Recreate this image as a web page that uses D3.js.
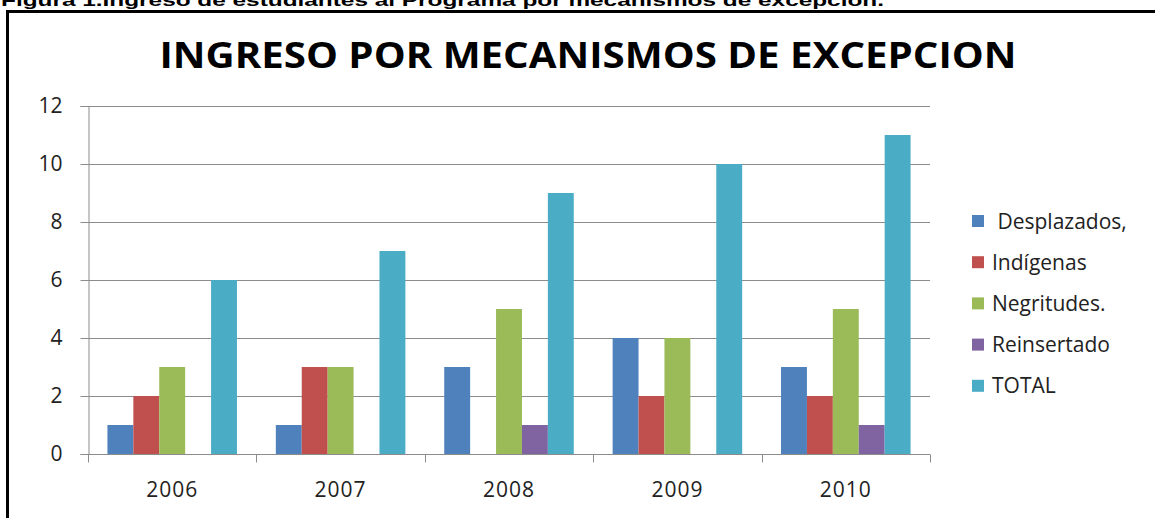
<!DOCTYPE html>
<html>
<head>
<meta charset="utf-8">
<script src="https://cdn.jsdelivr.net/npm/d3@7"></script>
<style>
  body { margin: 0; background: #fff; }
  svg { display: block; }
</style>
</head>
<body>
<div id="chart"></div>
<script>
const years = ['2006', '2007', '2008', '2009', '2010'];
const seriesNames = ['Desplazados', 'Indígenas', 'Negritudes', 'Reinsertado', 'TOTAL'];
const legendLabels = [' Desplazados,', 'Indígenas', 'Negritudes.', 'Reinsertado', 'TOTAL'];
const desplazados = [1, 1, 3, 4, 3];
const indigenas = [2, 3, 0, 2, 2];
const negritudes = [3, 3, 5, 4, 5];
const reinsertado = [0, 0, 1, 0, 1];
const total = [6, 7, 9, 10, 11];
const yTicks = [0, 2, 4, 6, 8, 10, 12];

const colors = ['#4F81BD', '#C0504D', '#9BBB59', '#8064A2', '#4BACC6'];
const values = [desplazados, indigenas, negritudes, reinsertado, total];

const width = 1155;
const height = 518;
const font = "'Open Sans', sans-serif";

const svg = d3.select('#chart').append('svg')
  .attr('width', width)
  .attr('height', height);

// caption (cut at the top of the picture, as in the original)
svg.append('text')
  .attr('x', 1)
  .attr('y', 6)
  .style('font-family', 'Arial, "Liberation Sans", sans-serif')
  .style('font-weight', 'bold')
  .style('font-size', '17px')
  .attr('textLength', 883)
  .attr('lengthAdjust', 'spacingAndGlyphs')
  .text('Figura 1.Ingreso de estudiantes al Programa por mecanismos de excepción.');

// frame
svg.append('path')
  .attr('d', 'M7.5,530 L7.5,11.5 L1160,11.5')
  .style('fill', 'none')
  .style('stroke', '#000')
  .style('stroke-width', 3);

svg.append('text')
  .attr('x', 588)
  .attr('y', 68)
  .style('font-family', font)
  .style('font-weight', 'bold')
  .style('font-size', '35px')
  .style('text-anchor', 'middle')
  .attr('textLength', 857)
  .attr('lengthAdjust', 'spacingAndGlyphs')
  .style('fill', '#000')
  .text('INGRESO POR MECANISMOS DE EXCEPCION');

const plotLeft = 88, plotRight = 930, plotTop = 106, plotBottom = 454;

const x0 = d3.scaleBand()
  .domain(years)
  .range([plotLeft, plotRight]);

const x1 = d3.scaleBand()
  .domain(seriesNames)
  .range([0, x0.bandwidth()])
  .paddingOuter(0.75)
  .paddingInner(0);

const y = d3.scaleLinear()
  .domain([0, 12])
  .range([plotBottom, plotTop]);

// gridlines
svg.append('g')
  .selectAll('line')
  .data(yTicks.filter(d => d > 0))
  .join('line')
  .attr('x1', plotLeft)
  .attr('x2', plotRight)
  .attr('y1', d => Math.round(y(d)) + 0.5)
  .attr('y2', d => Math.round(y(d)) + 0.5)
  .style('stroke', '#8c8c8c')
  .style('stroke-width', 1);

// bars
const groups = svg.append('g')
  .selectAll('g')
  .data(years)
  .join('g')
  .attr('transform', d => `translate(${x0(d)},0)`);

groups.selectAll('rect')
  .data((yr, i) => seriesNames.map((s, j) => ({ s, j, v: values[j][i] })))
  .join('rect')
  .attr('x', d => x1(d.s))
  .attr('width', x1.bandwidth())
  .attr('y', d => y(d.v))
  .attr('height', d => y(0) - y(d.v))
  .style('fill', d => colors[d.j]);

// y axis
const yAxis = svg.append('g')
  .attr('transform', `translate(${plotLeft + 0.5},0)`)
  .call(d3.axisLeft(y).tickValues(yTicks).tickSize(8).tickPadding(18).tickFormat(d3.format('d')));

// x axis
const xAxis = svg.append('g')
  .attr('transform', `translate(0,${Math.round(y(0)) + 0.5})`)
  .call(d3.axisBottom(x0).tickSize(0).tickPadding(28));

xAxis.selectAll('.cat-tick')
  .data(d3.range(years.length + 1))
  .join('line')
  .attr('class', 'cat-tick')
  .attr('x1', i => Math.round(plotLeft + i * x0.step()) + 0.5)
  .attr('x2', i => Math.round(plotLeft + i * x0.step()) + 0.5)
  .attr('y1', 0)
  .attr('y2', 8)
  .style('stroke', '#8c8c8c');

[yAxis, xAxis].forEach(a => {
  a.select('.domain').style('stroke', '#8c8c8c');
  a.selectAll('.tick line').style('stroke', '#8c8c8c');
  a.selectAll('text')
    .style('font-family', font)
    .style('font-size', '21px')
    .style('fill', '#222');
});
xAxis.select('.domain').attr('d', `M${plotLeft},0H${plotRight}`);
xAxis.selectAll('.tick text').style('letter-spacing', '1px');

// legend
const legend = svg.append('g')
  .selectAll('g')
  .data(legendLabels)
  .join('g')
  .attr('transform', (d, i) => `translate(972,${221 + i * 41.2})`);

legend.append('rect')
  .attr('x', 0)
  .attr('y', -6)
  .attr('width', 12)
  .attr('height', 12)
  .style('fill', (d, i) => colors[i]);

legend.append('text')
  .attr('x', 20)
  .attr('y', 0)
  .attr('dy', '0.36em')
  .style('font-family', font)
  .style('font-size', '21px')
  .style('white-space', 'pre')
  .attr('xml:space', 'preserve')
  .style('fill', '#222')
  .text(d => d);
</script>
</body>
</html>
